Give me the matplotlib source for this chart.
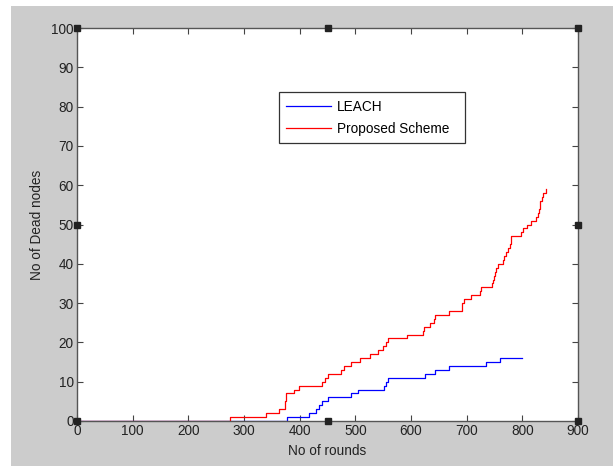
import numpy as np
import matplotlib.pyplot as plt
from matplotlib.patches import Rectangle

# ---- data (step points: round, dead nodes) ----
leach_rounds = [0, 378, 417, 430, 434, 440, 451, 493, 505, 551, 555, 559,
                625, 643, 669, 735, 760, 800]
leach_dead = [0, 1, 2, 3, 4, 5, 6, 7, 8, 9, 10, 11,
              12, 13, 14, 15, 16, 16]

prop_rounds = [0, 275, 340, 362, 373, 374, 375, 376, 389, 399, 441, 445, 451,
               475, 479, 492, 508, 526, 541, 550, 555, 559, 592, 621, 623,
               634, 641, 643, 669, 692, 695, 707, 724, 726, 745, 747, 749,
               751, 753, 757, 765, 767, 771, 775, 777, 780, 797, 802, 809,
               815, 825, 828, 830, 832, 835, 838, 842]
prop_dead = [0, 1, 2, 3, 4, 5, 6, 7, 8, 9, 10, 11, 12,
             13, 14, 15, 16, 17, 18, 19, 20, 21, 22, 23, 24,
             25, 26, 27, 28, 30, 31, 32, 33, 34, 35, 36, 37,
             38, 39, 40, 41, 42, 43, 44, 45, 47, 48, 49, 50,
             51, 52, 53, 54, 56, 57, 58, 59]

x_ticks = [0, 100, 200, 300, 400, 500, 600, 700, 800, 900]
y_ticks = [0, 10, 20, 30, 40, 50, 60, 70, 80, 90, 100]

plt.rcParams.update({
    "font.family": ["Liberation Sans", "DejaVu Sans"],
    "font.size": 9.8,
    "xtick.direction": "in",
    "ytick.direction": "in",
    "xtick.top": True,
    "ytick.right": True,
    "xtick.major.size": 4,
    "ytick.major.size": 4,
    "xtick.color": "#444444",
    "ytick.color": "#444444",
    "xtick.labelcolor": "#222222",
    "ytick.labelcolor": "#222222",
})

fig = plt.figure(figsize=(6.13, 4.68), dpi=100, facecolor="white")
# matlab style grey window background
fig.patches.append(Rectangle((11 / 613, 2 / 468), 602 / 613, 460 / 468,
                             transform=fig.transFigure, facecolor="#cccccc",
                             edgecolor="none", zorder=-10))

ax = fig.add_axes([77 / 613, 47 / 468, 501 / 613, 393 / 468])
ax.set_facecolor("white")

ax.step(leach_rounds, leach_dead, where="post", color="#0000ff", lw=0.9, label="LEACH")
ax.step(prop_rounds, prop_dead, where="post", color="#ff0000", lw=0.9, label="Proposed Scheme")

ax.set_xlim(0, 900)
ax.set_ylim(0, 100)
ax.set_xticks(x_ticks)
ax.set_yticks(y_ticks)
ax.tick_params(pad=2.5)

for sp in ax.spines.values():
    sp.set_color("#555555")
    sp.set_linewidth(1.0)

ax.set_xlabel("No of rounds", color="#222222", labelpad=4)
ax.set_ylabel("No of Dead nodes", color="#222222", labelpad=5)

# fixed-width legend box like the matlab one
leg = ax.legend(loc="upper left", bbox_to_anchor=(0.403, 0.0, 0.371, 0.837),
                mode="expand", borderaxespad=0,
                fancybox=False, framealpha=1, edgecolor="#333333",
                handlelength=3.3, handletextpad=0.4, borderpad=0.55,
                labelspacing=0.6, fontsize=9.8)
leg.get_frame().set_linewidth(0.9)

# selection handles at corners and mid points of the axes box
hx = [0, 0.5, 1, 0, 1, 0, 0.5, 1]
hy = [0, 0, 0, 0.5, 0.5, 1, 1, 1]
ax.plot(hx, hy, "s", color="#222222", markersize=5, transform=ax.transAxes,
        clip_on=False, zorder=10)

plt.savefig("out.png", dpi=100, facecolor="white")
plt.close()
